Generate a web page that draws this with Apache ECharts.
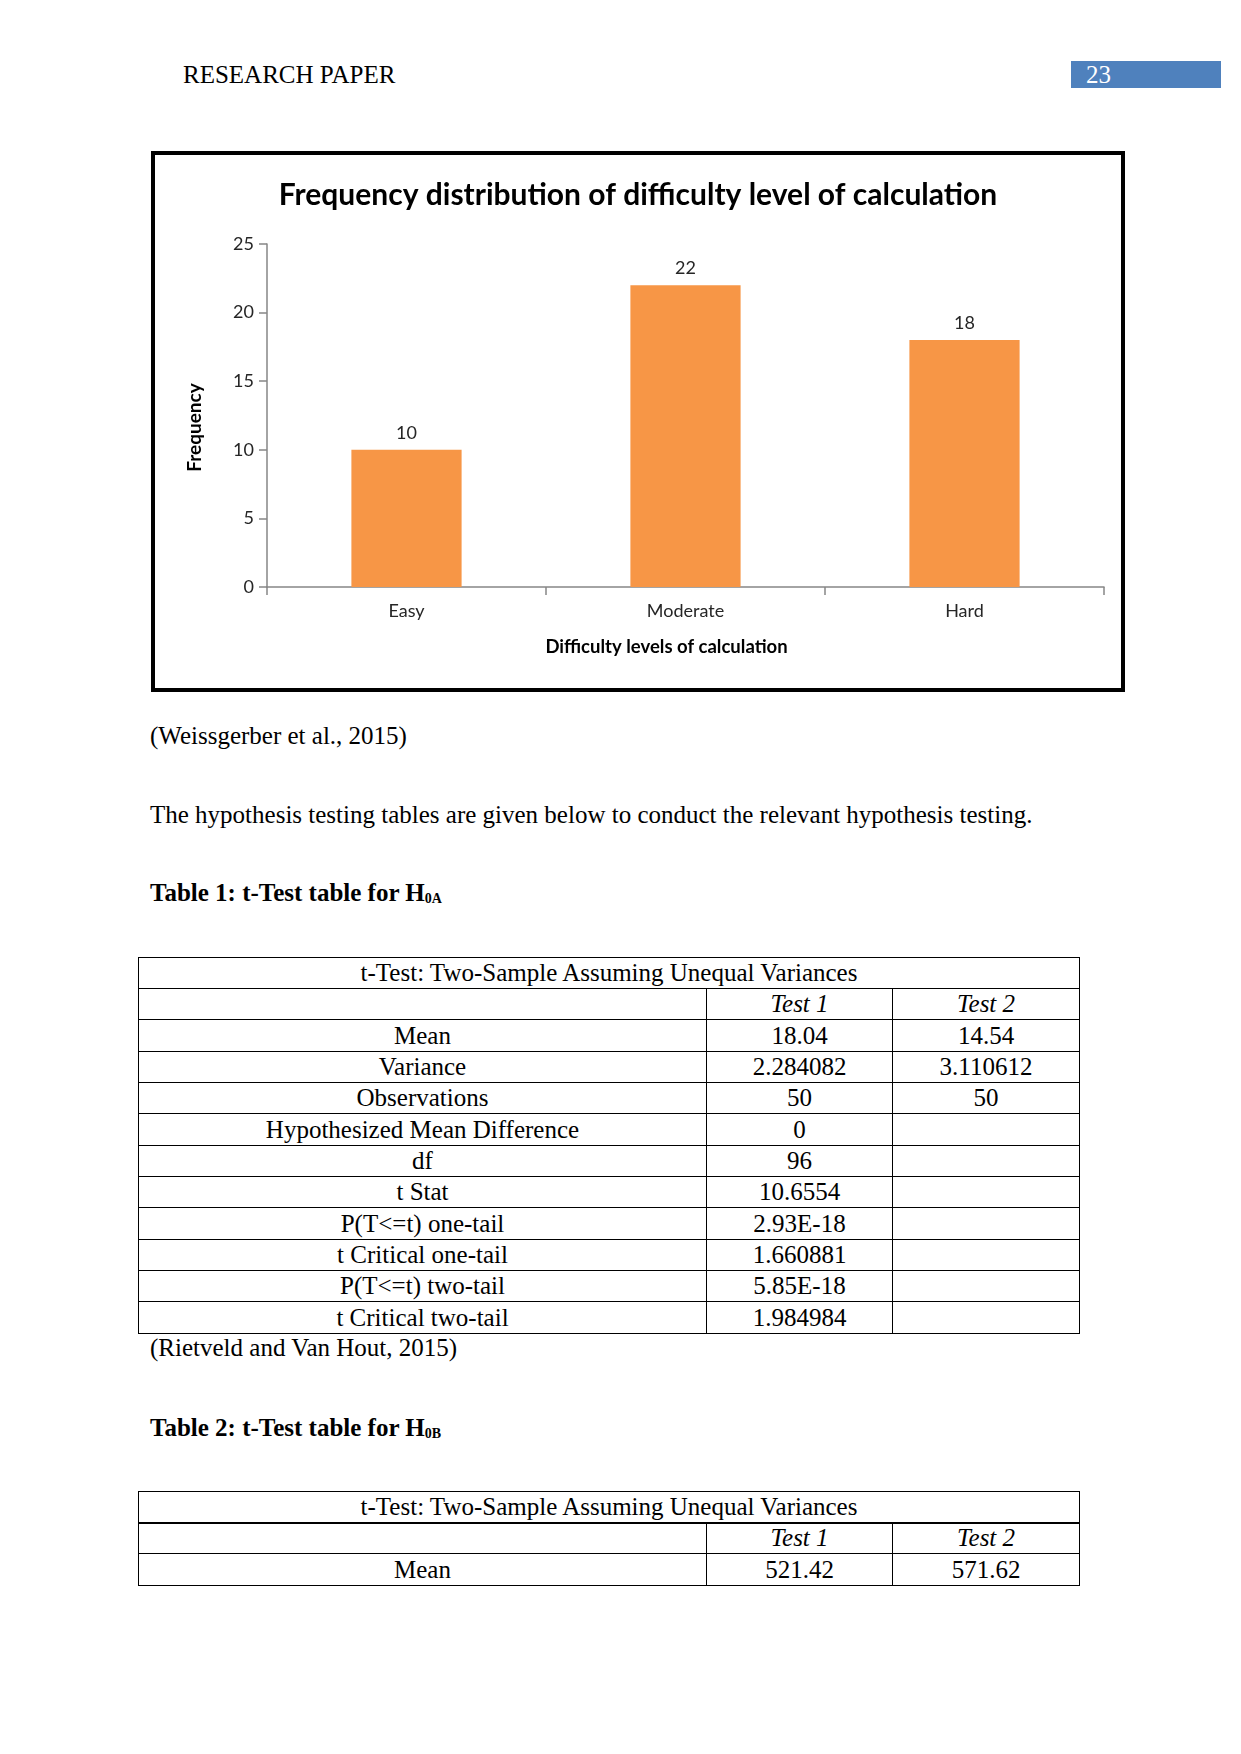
<!DOCTYPE html>
<html>
<head>
<meta charset="utf-8">
<script src="https://cdn.jsdelivr.net/npm/echarts@6/dist/echarts.min.js"></script>
<style>
  html, body {
    margin: 0;
    padding: 0;
    background: #fff;
  }
  .page {
    position: relative;
    width: 1241px;
    height: 1754px;
    font-family: "Liberation Serif", "Times New Roman", serif;
    color: #000;
  }
  .line {
    position: absolute;
    font-size: 25px;
    line-height: 25px;
    white-space: nowrap;
  }
  .bold { font-weight: bold; }
  .sub {
    font-size: 14px;
    vertical-align: -2px;
  }
  .page-no {
    position: absolute;
    left: 1071px;
    top: 61px;
    width: 150px;
    height: 27px;
    background: #4f81bd;
  }
  .chart-box {
    position: absolute;
    left: 151px;
    top: 151px;
    width: 974px;
    height: 541px;
    border: 4px solid #000;
    box-sizing: border-box;
  }
  #chart {
    width: 966px;
    height: 533px;
  }
  table.ttest {
    position: absolute;
    left: 138px;
    width: 941px;
    border-collapse: collapse;
    table-layout: fixed;
    font-size: 25px;
  }
  table.ttest td {
    border: 1px solid #000;
    padding: 0 0 2px 0;
    text-align: center;
    vertical-align: bottom;
    line-height: 26px;
    white-space: nowrap;
    overflow: hidden;
  }
  table.ttest tr { height: 31.33px; }
  table.ttest td.head { font-style: italic; }
  table.thick-head tr.title td { border-bottom: 2.5px solid #000; }
</style>
</head>
<body>
<div class="page">
  <div class="line" style="left:183px;top:62px;">RESEARCH PAPER</div>
  <div class="page-no"></div>
  <div class="line" style="left:1086px;top:62px;color:#fff;">23</div>

  <div class="chart-box"><div id="chart"></div></div>

  <div class="line" style="left:150px;top:723px;">(Weissgerber et al., 2015)</div>
  <div class="line" style="left:150px;top:802px;">The hypothesis testing tables are given below to conduct the relevant hypothesis testing.</div>
  <div class="line bold" style="left:150px;top:880px;">Table 1: t-Test table for H<span class="sub">0A</span></div>

  <table class="ttest" id="table1" style="top:956.7px;"></table>

  <div class="line" style="left:150px;top:1335px;">(Rietveld and Van Hout, 2015)</div>
  <div class="line bold" style="left:150px;top:1415px;">Table 2: t-Test table for H<span class="sub">0B</span></div>

  <table class="ttest thick-head" id="table2" style="top:1490.7px;"></table>
</div>

<script>
// chart data
const categories = ['Easy', 'Moderate', 'Hard'];
const frequency = [10, 22, 18];
const yMin = 0;
const yMax = 25;
const yStep = 5;

// table data (Table 1: H0A)
const table1Labels = ['Mean', 'Variance', 'Observations', 'Hypothesized Mean Difference', 'df', 't Stat',
  'P(T<=t) one-tail', 't Critical one-tail', 'P(T<=t) two-tail', 't Critical two-tail'];
const table1Test1 = ['18.04', '2.284082', '50', '0', '96', '10.6554', '2.93E-18', '1.660881', '5.85E-18', '1.984984'];
const table1Test2 = ['14.54', '3.110612', '50', '', '', '', '', '', '', ''];

// table data (Table 2: H0B)
const table2Labels = ['Mean'];
const table2Test1 = ['521.42'];
const table2Test2 = ['571.62'];

const tableTitle = 't-Test: Two-Sample Assuming Unequal Variances';
const tableHeads = ['Test 1', 'Test 2'];

function esc(s) {
  return s.replace(/&/g, '&amp;').replace(/</g, '&lt;').replace(/>/g, '&gt;');
}

function fillTable(id, labels, col1, col2) {
  let html = '<colgroup><col style="width:568px"><col style="width:186px"><col style="width:187px"></colgroup>';
  html += '<tr class="title"><td colspan="3">' + tableTitle + '</td></tr>';
  html += '<tr><td></td><td class="head">' + tableHeads[0] + '</td><td class="head">' + tableHeads[1] + '</td></tr>';
  labels.forEach((label, i) => {
    html += '<tr><td>' + esc(label) + '</td><td>' + esc(col1[i]) + '</td><td>' + esc(col2[i]) + '</td></tr>';
  });
  document.getElementById(id).innerHTML = html;
}

fillTable('table1', table1Labels, table1Test1, table1Test2);
fillTable('table2', table2Labels, table2Test1, table2Test2);

const axisGray = '#868686';
const textColor = '#262626';
const labelFont = 'Lato, "Noto Sans", sans-serif';

const option = {
  animation: false,
  title: {
    text: 'Frequency distribution of difficulty level of calculation',
    left: 'center',
    top: 20,
    textStyle: {
      fontFamily: labelFont,
      fontWeight: 'bold',
      fontSize: 30,
      color: '#000'
    }
  },
  grid: {
    left: 112,
    top: 89,
    width: 837,
    height: 343,
    containLabel: false,
    outerBoundsMode: 'none'
  },
  xAxis: {
    type: 'category',
    data: categories,
    name: 'Difficulty levels of calculation',
    nameLocation: 'middle',
    nameGap: 51,
    nameTextStyle: {
      fontFamily: labelFont,
      fontWeight: 'bold',
      fontSize: 18.5,
      color: '#000',
      padding: [0, 38, 0, 0]
    },
    axisLine: {
      lineStyle: { color: axisGray, width: 1.5 }
    },
    axisTick: {
      show: true,
      length: 8,
      lineStyle: { color: axisGray, width: 1.5 }
    },
    axisLabel: {
      margin: 15,
      fontFamily: labelFont,
      fontSize: 18,
      color: textColor
    }
  },
  yAxis: {
    type: 'value',
    min: yMin,
    max: yMax,
    interval: yStep,
    name: 'Frequency',
    nameLocation: 'middle',
    nameGap: 63,
    nameTextStyle: {
      fontFamily: labelFont,
      fontWeight: 'bold',
      fontSize: 19,
      color: '#000',
      padding: [0, 24, 0, 0]
    },
    splitLine: { show: false },
    axisLine: {
      show: true,
      lineStyle: { color: axisGray, width: 1.5 }
    },
    axisTick: {
      show: true,
      length: 8,
      lineStyle: { color: axisGray, width: 1.5 }
    },
    axisLabel: {
      margin: 13,
      fontFamily: labelFont,
      fontSize: 18,
      color: textColor
    }
  },
  series: [
    {
      type: 'bar',
      data: frequency,
      barCategoryGap: '60.5%',
      itemStyle: { color: '#f79646' },
      label: {
        show: true,
        position: 'top',
        distance: 8,
        fontFamily: labelFont,
        fontSize: 18,
        color: textColor
      }
    }
  ]
};

const myChart = echarts.init(document.getElementById('chart'));
myChart.setOption(option);
</script>
</body>
</html>
